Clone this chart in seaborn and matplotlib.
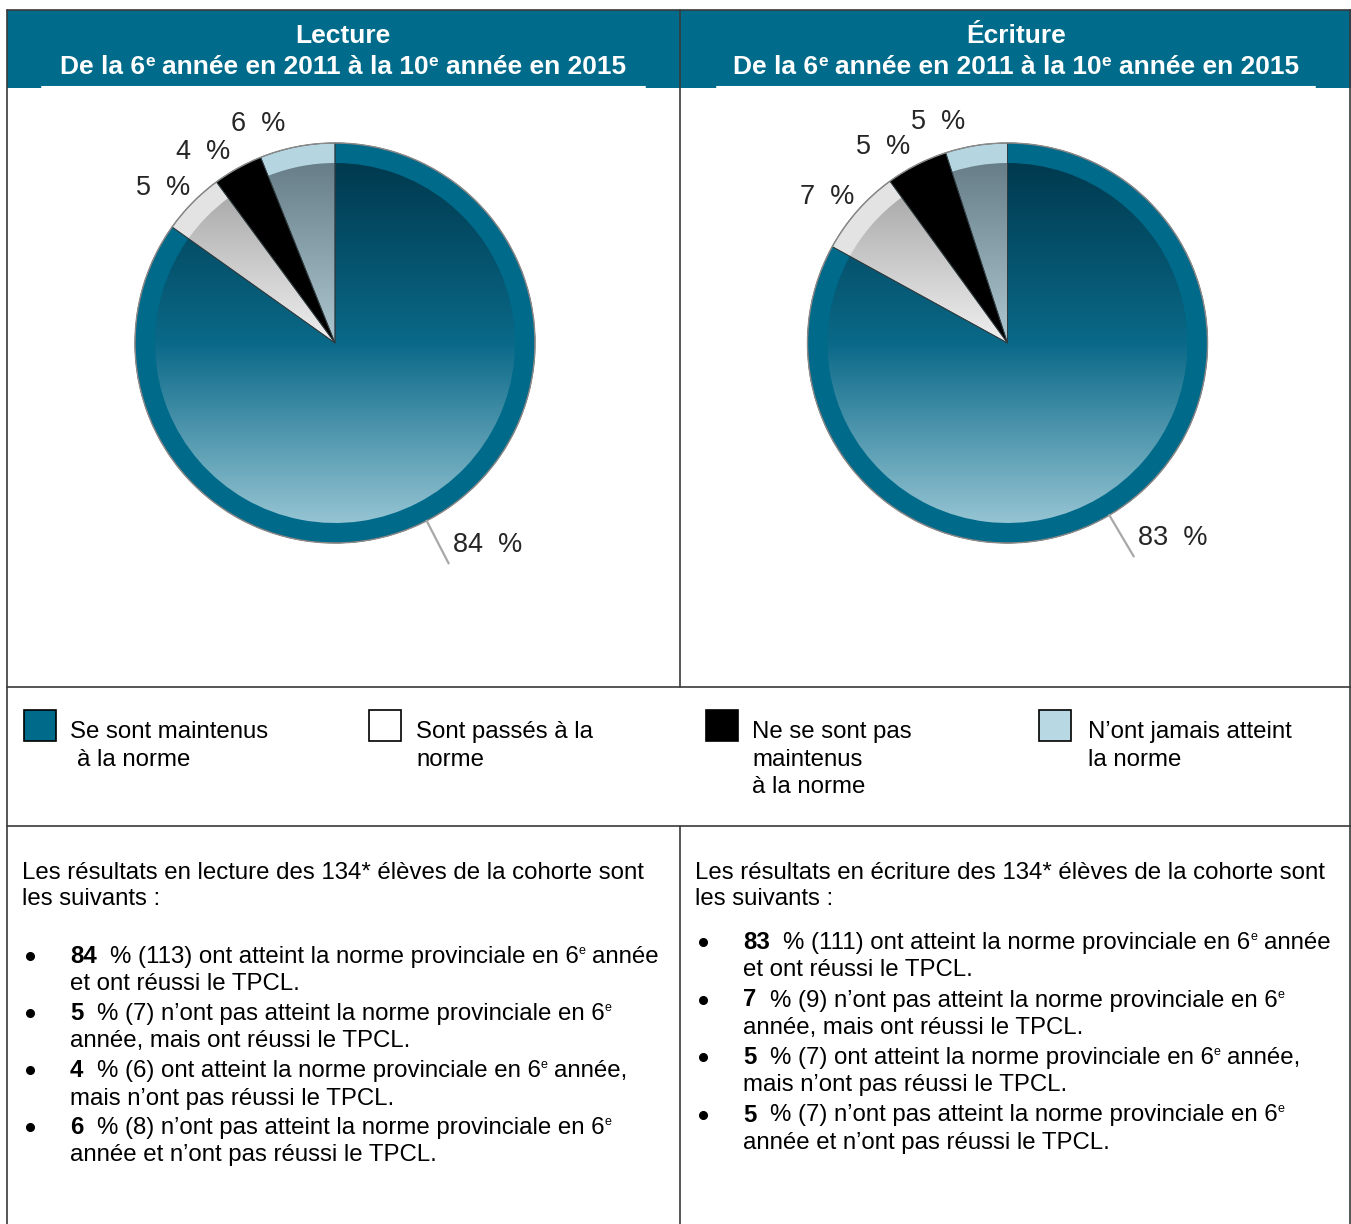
import numpy as np
import matplotlib
matplotlib.use("Agg")
import matplotlib.pyplot as plt
import seaborn as sns
from matplotlib.colors import LinearSegmentedColormap
from matplotlib.patches import Rectangle

sns.set_theme(style="white")
plt.rcParams['font.family'] = ['Liberation Sans', 'DejaVu Sans']

# ---------------- data ----------------
categories = ["Se sont maintenus\n à la norme", "Sont passés à la\nnorme",
              "Ne se sont pas\nmaintenus\nà la norme", "N’ont jamais atteint\nla norme"]
panel_titles = ["Lecture", "Écriture"]
subjects = ["lecture", "écriture"]
cohort_size = 134
lecture_pct = [84, 5, 4, 6]
ecriture_pct = [83, 7, 5, 5]
lecture_n = [113, 7, 6, 8]
ecriture_n = [111, 9, 7, 7]
bullet_pre = ["ont atteint la norme provinciale en 6",
              "n’ont pas atteint la norme provinciale en 6",
              "ont atteint la norme provinciale en 6",
              "n’ont pas atteint la norme provinciale en 6"]
bullet_post = [" année", "", " année,", ""]
bullet_line2 = ["et ont réussi le TPCL.", "année, mais ont réussi le TPCL.",
                "mais n’ont pas réussi le TPCL.", "année et n’ont pas réussi le TPCL."]

# ---------------- styles ----------------
swatch_colors = ["#006a8a", "#ffffff", "#000000", "#b8d8e3"]
rim_colors = ["#006a8a", "#e3e3e3", "#000000", "#b5d5e0"]
cmaps = [
    LinearSegmentedColormap.from_list("teal", [(0, "#003a4f"), (0.5, "#0a6988"), (1, "#95c4d3")]),
    LinearSegmentedColormap.from_list("grey", [(0, "#9c9c9c"), (0.5, "#f0f0f0"), (1, "#ffffff")]),
    None,
    LinearSegmentedColormap.from_list("lb", [(0, "#687f89"), (0.5, "#adc7d0"), (1, "#d0e4ea")]),
]
HEADER = "#006b8a"
LINE = "#3a3a3a"

W, H = 1351, 1224
fig = plt.figure(figsize=(W / 100, H / 100), dpi=100)
fig.patch.set_facecolor("white")
bg = fig.add_axes([0, 0, 1, 1])
bg.set_xlim(0, W)
bg.set_ylim(H, 0)
bg.axis("off")
renderer = fig.canvas.get_renderer()


def measure(s, **kw):
    t1 = bg.text(0, 0, "|" + s + "|", **kw)
    w1 = t1.get_window_extent(renderer).width
    t1.remove()
    t2 = bg.text(0, 0, "||", **kw)
    w2 = t2.get_window_extent(renderer).width
    t2.remove()
    return w1 - w2


def draw_runs(x, y, runs, ha="left"):
    widths = [measure(s, **{k: v for k, v in kw.items() if k != "dy"}) for s, kw in runs]
    if ha == "center":
        x -= sum(widths) / 2
    for (s, kw), w in zip(runs, widths):
        kw = dict(kw)
        dy = kw.pop("dy", 0)
        stripped = s.lstrip()
        lead = s[:len(s) - len(stripped)]
        xs = x + (measure(lead, **kw) if lead else 0)
        if stripped:
            bg.text(xs, y - dy, stripped.rstrip(), ha="left", va="baseline", color=kw.pop("color", "black"), **kw)
        x += w


# ---------------- frame ----------------
bg.add_patch(Rectangle((7, 10), W - 7, 78, facecolor=HEADER, edgecolor="none", zorder=1))
bg.plot([42, 645], [86.5, 86.5], color="white", lw=1.5, zorder=2)
bg.plot([717, 1315], [86.5, 86.5], color="white", lw=1.5, zorder=2)
bg.plot([7, W], [10, 10], color=LINE, lw=1.2, zorder=3)
bg.plot([7, 7], [10, H], color=LINE, lw=1.2, zorder=3)
bg.plot([1350, 1350], [10, H], color=LINE, lw=1.2, zorder=3)
bg.plot([680, 680], [10, 687], color=LINE, lw=1.2, zorder=3)
bg.plot([680, 680], [826, H], color=LINE, lw=1.2, zorder=3)
bg.plot([7, W], [687, 687], color=LINE, lw=1.2, zorder=3)
bg.plot([7, W], [826, 826], color=LINE, lw=1.2, zorder=3)

# ---------------- headers ----------------
hdr = dict(fontsize=19, fontweight="bold", color="white")
sup_h = dict(fontsize=12.5, fontweight="bold", color="white", dy=8)
for cx, title in zip([343, 1016], panel_titles):
    draw_runs(cx, 43, [(title, hdr)], ha="center")
    draw_runs(cx, 74, [("De la 6", hdr), ("e", sup_h), (" année en 2011 à la 10", hdr),
                       ("e", sup_h), (" année en 2015", hdr)], ha="center")

# ---------------- pies ----------------
grad = np.linspace(0, 1, 256).reshape(-1, 1)
pie_centers = [(335, 343), (1007.5, 343)]
half = 300
for (cx, cy), pct in zip(pie_centers, [lecture_pct, ecriture_pct]):
    ax = fig.add_axes([(cx - half) / W, 1 - (cy + half) / H, 2 * half / W, 2 * half / H])
    ax.set_facecolor("none")
    outer, _ = ax.pie(pct, colors=rim_colors, startangle=90, counterclock=False, radius=1.0,
                      wedgeprops=dict(edgecolor="none", linewidth=0))
    inner, _ = ax.pie(pct, colors=["none"] * len(pct), startangle=90, counterclock=False, radius=0.9,
                      wedgeprops=dict(edgecolor="none", linewidth=0))
    for w, cm in zip(inner, cmaps):
        if cm is None:
            w.set_facecolor("black")
            continue
        im = ax.imshow(grad, cmap=cm, extent=(-0.9, 0.9, -0.9, 0.9), aspect="auto",
                       origin="upper", interpolation="bilinear", zorder=2)
        im.set_clip_path(w)
    edges, _ = ax.pie(pct, colors=["none"] * len(pct), startangle=90, counterclock=False, radius=1.0,
                      wedgeprops=dict(edgecolor="#2e3a3e", linewidth=0.6))
    for w in edges:
        w.set_zorder(3)
    circ = plt.Circle((0, 0), 1.0, facecolor="none", edgecolor="#8a8a8a", lw=1.0, zorder=4)
    ax.add_patch(circ)

    total = sum(pct)
    cum = np.cumsum([0] + list(pct[:-1]))
    for i, (v, c0) in enumerate(zip(pct, cum)):
        mid = np.deg2rad(90 - 360 * (c0 + v / 2) / total)
        if i == 0:
            x0, y0 = np.cos(mid), np.sin(mid)
            x1, y1 = 1.24 * np.cos(mid), 1.24 * np.sin(mid)
            ax.plot([x0, x1], [y0, y1], color="#a8a8a8", lw=1.6, zorder=5, clip_on=False)
            ax.text(x1 + 0.02, y1 + 0.09, f"{v}  %", fontsize=19.5, ha="left", va="center", clip_on=False)
        else:
            ang = mid + np.deg2rad(2.5 + 3.0 * (i - 1))
            ax.text(1.16 * np.cos(ang), 1.16 * np.sin(ang), f"{v}  %", fontsize=19.5,
                    ha="center", va="center", clip_on=False)
    ax.set_xlim(-1.5, 1.5)
    ax.set_ylim(-1.5, 1.5)
    ax.set_aspect("equal")
    ax.axis("off")

# ---------------- legend ----------------
legend_x = [24, 369, 706, 1039]
legend_tx = [70, 416, 752, 1088]
body = dict(fontsize=17.3)
for sx, tx, col, lab in zip(legend_x, legend_tx, swatch_colors, categories):
    bg.add_patch(Rectangle((sx, 710), 32, 31, facecolor=col, edgecolor="black", lw=1.2, zorder=3))
    for k, line in enumerate(lab.split("\n")):
        draw_runs(tx, 738 + 27.5 * k, [(line, body)])

# ---------------- description text ----------------
bold = dict(fontsize=17.3, fontweight="bold")
sup_b = dict(fontsize=9, dy=9)
panel_x = [22, 695]
bullet_y0 = [963, 949]
bullet_step = [57, 57.5]
for px, subj, pct, ns, by0, bst in zip(panel_x, subjects, [lecture_pct, ecriture_pct],
                                       [lecture_n, ecriture_n], bullet_y0, bullet_step):
    draw_runs(px, 879, [(f"Les résultats en {subj} des {cohort_size}* élèves de la cohorte sont", body)])
    draw_runs(px, 905, [("les suivants :", body)])
    for i, (v, n) in enumerate(zip(pct, ns)):
        yb = by0 + bst * i
        bg.plot([px + 8], [yb - 7], marker="o", markersize=5.5, color="black", zorder=4)
        draw_runs(px + 48, yb, [(f"{v}", bold), (f"  % ({n}) {bullet_pre[i]}", body),
                                ("e", sup_b), (bullet_post[i], body)])
        draw_runs(px + 48, yb + 27.5, [(bullet_line2[i], body)])

fig.savefig("out.png", dpi=100)
